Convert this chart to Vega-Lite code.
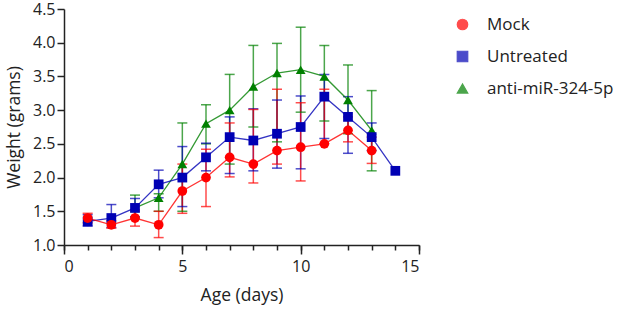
{
  "$schema": "https://vega.github.io/schema/vega-lite/v6.json",
  "width": 355,
  "height": 236,
  "autosize": {"type": "none"},
  "padding": {"left": 64, "top": 9, "right": 198, "bottom": 66},
  "config": {
    "font": "Open Sans",
    "view": {"stroke": null},
    "axis": {
      "grid": false,
      "domainColor": "#222222",
      "tickColor": "#222222",
      "labelColor": "#222222",
      "titleColor": "#222222",
      "labelFontSize": 16,
      "titleFontSize": 17.5,
      "titleFontWeight": "normal",
      "domainWidth": 1.5,
      "tickWidth": 1.5
    },
    "legend": {"labelFontSize": 17, "labelColor": "#222222", "labelFont": "Open Sans", "padding": 0}
  },
  "data": {
    "values": [
      {"group": "anti-miR-324-5p", "day": 3, "mean": 1.55, "lo": 1.4, "hi": 1.74},
      {"group": "anti-miR-324-5p", "day": 4, "mean": 1.7, "lo": 1.5, "hi": 1.76},
      {"group": "anti-miR-324-5p", "day": 5, "mean": 2.2, "lo": 1.5, "hi": 2.81},
      {"group": "anti-miR-324-5p", "day": 6, "mean": 2.8, "lo": 2.5, "hi": 3.08},
      {"group": "anti-miR-324-5p", "day": 7, "mean": 3.0, "lo": 2.2, "hi": 3.53},
      {"group": "anti-miR-324-5p", "day": 8, "mean": 3.35, "lo": 2.75, "hi": 3.96},
      {"group": "anti-miR-324-5p", "day": 9, "mean": 3.55, "lo": 2.53, "hi": 3.99},
      {"group": "anti-miR-324-5p", "day": 10, "mean": 3.6, "lo": 2.97, "hi": 4.23},
      {"group": "anti-miR-324-5p", "day": 11, "mean": 3.5, "lo": 2.84, "hi": 3.96},
      {"group": "anti-miR-324-5p", "day": 12, "mean": 3.15, "lo": 2.65, "hi": 3.67},
      {"group": "anti-miR-324-5p", "day": 13, "mean": 2.7, "lo": 2.1, "hi": 3.29},
      {"group": "Untreated", "day": 1, "mean": 1.35, "lo": 1.28, "hi": 1.45},
      {"group": "Untreated", "day": 2, "mean": 1.4, "lo": 1.26, "hi": 1.6},
      {"group": "Untreated", "day": 3, "mean": 1.55, "lo": 1.42, "hi": 1.69},
      {"group": "Untreated", "day": 4, "mean": 1.9, "lo": 1.7, "hi": 2.11},
      {"group": "Untreated", "day": 5, "mean": 2.0, "lo": 1.57, "hi": 2.46},
      {"group": "Untreated", "day": 6, "mean": 2.3, "lo": 2.1, "hi": 2.51},
      {"group": "Untreated", "day": 7, "mean": 2.6, "lo": 2.06, "hi": 2.9},
      {"group": "Untreated", "day": 8, "mean": 2.55, "lo": 2.1, "hi": 3.02},
      {"group": "Untreated", "day": 9, "mean": 2.65, "lo": 2.14, "hi": 3.15},
      {"group": "Untreated", "day": 10, "mean": 2.75, "lo": 2.13, "hi": 3.21},
      {"group": "Untreated", "day": 11, "mean": 3.2, "lo": 2.58, "hi": 3.53},
      {"group": "Untreated", "day": 12, "mean": 2.9, "lo": 2.36, "hi": 3.2},
      {"group": "Untreated", "day": 13, "mean": 2.6, "lo": 2.4, "hi": 2.81},
      {"group": "Untreated", "day": 14, "mean": 2.1, "lo": null, "hi": null},
      {"group": "Mock", "day": 1, "mean": 1.4, "lo": 1.33, "hi": 1.47},
      {"group": "Mock", "day": 2, "mean": 1.3, "lo": 1.25, "hi": 1.36},
      {"group": "Mock", "day": 3, "mean": 1.4, "lo": 1.28, "hi": 1.52},
      {"group": "Mock", "day": 4, "mean": 1.3, "lo": 1.11, "hi": 1.5},
      {"group": "Mock", "day": 5, "mean": 1.8, "lo": 1.47, "hi": 2.2},
      {"group": "Mock", "day": 6, "mean": 2.0, "lo": 1.57, "hi": 2.42},
      {"group": "Mock", "day": 7, "mean": 2.3, "lo": 2.01, "hi": 2.81},
      {"group": "Mock", "day": 8, "mean": 2.2, "lo": 1.92, "hi": 3.01},
      {"group": "Mock", "day": 9, "mean": 2.4, "lo": 2.2, "hi": 3.31},
      {"group": "Mock", "day": 10, "mean": 2.45, "lo": 1.95, "hi": 3.11},
      {"group": "Mock", "day": 11, "mean": 2.5, "lo": 2.5, "hi": 3.31},
      {"group": "Mock", "day": 12, "mean": 2.7, "lo": 2.53, "hi": 2.9},
      {"group": "Mock", "day": 13, "mean": 2.4, "lo": 2.21, "hi": 2.6}
    ]
  },
  "resolve": {"axis": {"x": "independent", "y": "independent"}},
  "layer": [
    {
      "mark": {"type": "rule", "strokeWidth": 1.5, "opacity": 0.7},
      "encoding": {
        "x": {"field": "day", "type": "quantitative", "scale": {"domain": [0, 15], "nice": false},
          "axis": {"orient": "bottom", "values": [0,1,2,3,4,5,6,7,8,9,10,11,12,13,14,15], "labels": false, "tickSize": 5, "domain": false, "title": null}},
        "y": {"field": "lo", "type": "quantitative", "scale": {"domain": [1, 4.5], "nice": false},
          "axis": {"orient": "left", "values": [1, 1.5, 2, 2.5, 3, 3.5, 4, 4.5], "format": ".1f", "tickSize": 7, "labelPadding": 2, "title": "Weight (grams)", "titlePadding": 9}},
        "y2": {"field": "hi"},
        "color": {"field": "group", "type": "nominal", "scale": {"domain": ["Mock", "Untreated", "anti-miR-324-5p"], "range": ["#ff0000", "#0000b4", "#008000"]},
          "legend": {
            "orient": "none", "legendX": 390, "legendY": 7, "title": null,
            "symbolSize": 110, "symbolOpacity": 1, "symbolStrokeWidth": 1.2,
            "rowPadding": 14, "labelOffset": 16
          }}
      }
    },
    {
      "mark": {"type": "tick", "orient": "horizontal", "size": 10, "thickness": 1.5, "opacity": 0.7},
      "encoding": {
        "x": {"field": "day", "type": "quantitative", "axis": {"orient": "bottom", "values": [0, 5, 10, 15], "tickSize": 9, "labelPadding": 4, "title": "Age (days)", "titlePadding": 12}},
        "y": {"field": "lo", "type": "quantitative", "axis": null},
        "color": {"field": "group", "type": "nominal"}
      }
    },
    {
      "mark": {"type": "tick", "orient": "horizontal", "size": 10, "thickness": 1.5, "opacity": 0.7},
      "encoding": {
        "x": {"field": "day", "type": "quantitative", "axis": null},
        "y": {"field": "hi", "type": "quantitative", "axis": null},
        "color": {"field": "group", "type": "nominal"}
      }
    },
    {
      "mark": {"type": "line", "strokeWidth": 1.3, "opacity": 0.8},
      "encoding": {
        "x": {"field": "day", "type": "quantitative", "axis": null},
        "y": {"field": "mean", "type": "quantitative", "axis": null},
        "color": {"field": "group", "type": "nominal"}
      }
    },
    {
      "mark": {"type": "point", "filled": true, "opacity": 1, "size": 95},
      "encoding": {
        "x": {"field": "day", "type": "quantitative", "axis": null},
        "y": {"field": "mean", "type": "quantitative", "axis": null},
        "color": {"field": "group", "type": "nominal"},
        "shape": {"field": "group", "type": "nominal", "scale": {"domain": ["Mock", "Untreated", "anti-miR-324-5p"], "range": ["circle", "square", "triangle-up"]}}
      }
    }
  ]
}
